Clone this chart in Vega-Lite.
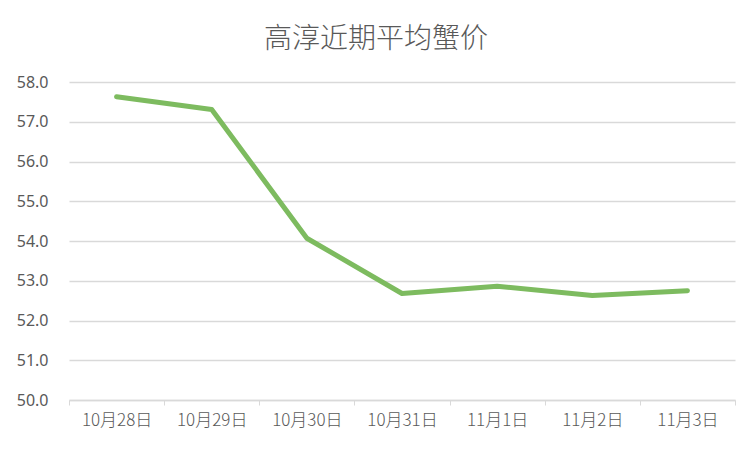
{
  "$schema": "https://vega.github.io/schema/vega-lite/v6.json",
  "autosize": "none",
  "width": 666,
  "height": 318,
  "padding": {"left": 69, "top": 82, "right": 17, "bottom": 52},
  "background": "white",
  "title": {
    "text": "高淳近期平均蟹价",
    "font": "Noto Sans CJK SC",
    "fontSize": 28,
    "fontWeight": 300,
    "color": "#595959",
    "anchor": "middle",
    "frame": "bounds",
    "offset": 20
  },
  "data": {
    "values": [
      {"date": "10月28日", "price": 57.63},
      {"date": "10月29日", "price": 57.31},
      {"date": "10月30日", "price": 54.07},
      {"date": "10月31日", "price": 52.68},
      {"date": "11月1日", "price": 52.86},
      {"date": "11月2日", "price": 52.63},
      {"date": "11月3日", "price": 52.75}
    ]
  },
  "mark": {"type": "line", "color": "#7DBB5F", "strokeWidth": 5, "strokeCap": "round", "strokeJoin": "round"},
  "encoding": {
    "x": {
      "field": "date",
      "type": "ordinal",
      "sort": null,
      "scale": {"paddingInner": 0, "paddingOuter": 0},
      "axis": {
        "title": null,
        "labelAngle": 0,
        "labelFont": "Noto Sans CJK SC",
        "labelFontSize": 17,
        "labelFontWeight": 300,
        "labelColor": "#595959",
        "labelPadding": 7,
        "tickBand": "extent",
        "ticks": true,
        "tickSize": 5,
        "tickColor": "#d9d9d9",
        "domainColor": "#d9d9d9",
        "domainWidth": 1.3,
        "grid": false
      }
    },
    "y": {
      "field": "price",
      "type": "quantitative",
      "scale": {"domain": [50, 58], "zero": false, "nice": false},
      "axis": {
        "title": null,
        "values": [50, 51, 52, 53, 54, 55, 56, 57, 58],
        "format": ".1f",
        "labelFont": "Noto Sans",
        "labelFontSize": 16,
        "labelColor": "#595959",
        "labelPadding": 21,
        "ticks": false,
        "domain": false,
        "grid": true,
        "gridColor": "#d9d9d9",
        "gridWidth": 1.3
      }
    }
  },
  "config": {"view": {"stroke": null}}
}
